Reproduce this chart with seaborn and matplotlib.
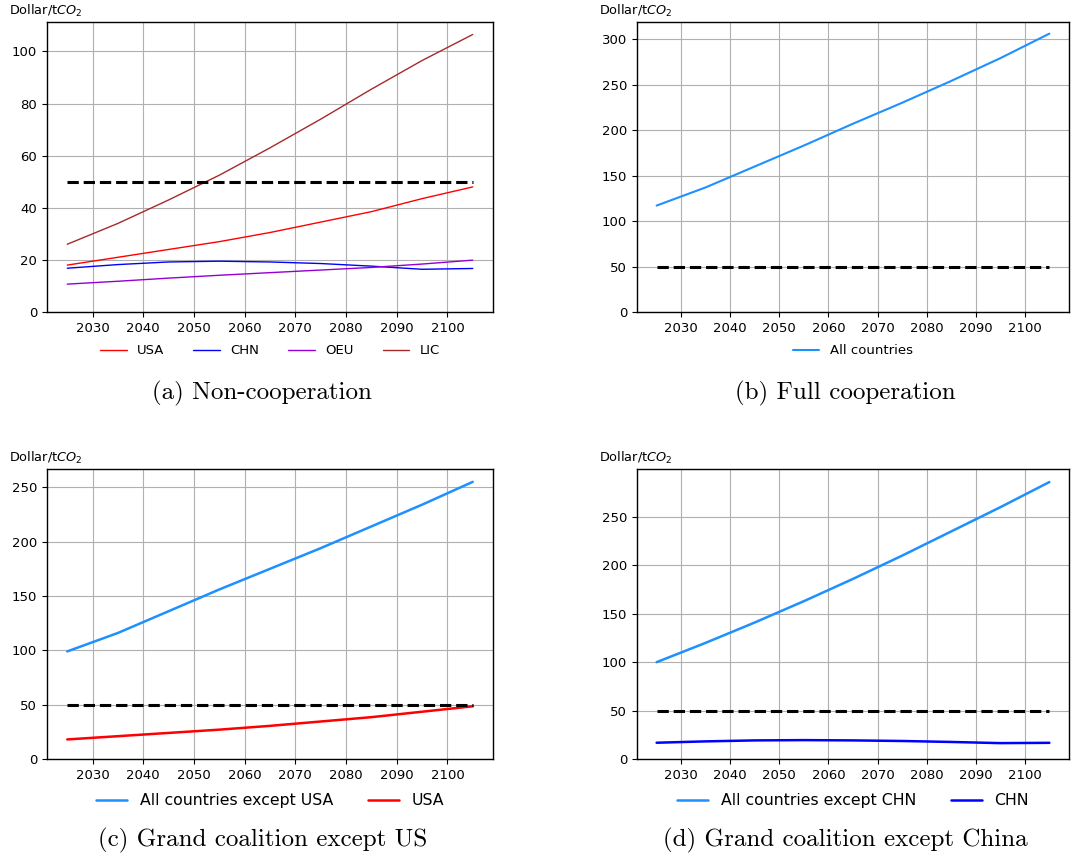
import pandas as pd
import matplotlib.pyplot as plt
import seaborn as sns

sns.set_style('ticks', {'axes.grid': True, 'grid.color': '#b0b0b0',
                        'axes.edgecolor': 'black', 'xtick.color': 'black',
                        'ytick.color': 'black', 'text.color': 'black'})
plt.rcParams['font.family'] = ['DejaVu Sans']

# carbon price paths, Dollar/tCO2, every 10 years
years = [2025, 2035, 2045, 2055, 2065, 2075, 2085, 2095, 2105]
ref_price = 50

usa_noncoop = [18, 21, 24, 27, 30.5, 34.5, 38.5, 43.5, 48]
chn_noncoop = [16.8, 18.2, 19.2, 19.5, 19.2, 18.6, 17.6, 16.4, 16.7]
oeu_noncoop = [10.7, 11.8, 13, 14.1, 15.1, 16.1, 17.1, 18.4, 19.9]
lic_noncoop = [26, 34, 43, 52.5, 63, 74, 85.5, 96.5, 106.5]

all_full = [117, 137, 160, 183, 207, 230, 254, 279, 306]

all_ex_usa = [99, 116, 136, 156, 175, 194, 214, 234, 255]
usa_out = [18, 21, 24, 27, 30.5, 34.5, 38.5, 43.5, 48.5]

all_ex_chn = [100, 120, 141, 163, 186, 210, 235, 260, 286]
chn_out = [16.8, 18.2, 19.2, 19.5, 19.2, 18.6, 17.6, 16.4, 16.7]

captions = ['(a) Non-cooperation', '(b) Full cooperation',
            '(c) Grand coalition except US', '(d) Grand coalition except China']


def long_df(series):
    rows = []
    for name, vals in series.items():
        for y, v in zip(years, vals):
            rows.append({'year': y, 'price': v, 'region': name})
    return pd.DataFrame(rows)


W, H = 1081, 858
fig = plt.figure(figsize=(W / 100, H / 100), dpi=100)

boxes = [(47, 312, 446), (637, 312, 432), (47, 759, 446), (637, 759, 432)]
axes = [fig.add_axes([x / W, (H - b) / H, w / W, 290 / H]) for x, b, w in boxes]

# series, colours, line width, legend columns, legend font size
panels = [
    ({'USA': usa_noncoop, 'CHN': chn_noncoop, 'OEU': oeu_noncoop, 'LIC': lic_noncoop},
     {'USA': 'red', 'CHN': 'blue', 'OEU': 'darkviolet', 'LIC': 'brown'}, 1.0, 4, 9.5),
    ({'All countries': all_full}, {'All countries': 'dodgerblue'}, 1.5, 1, 9.5),
    ({'All countries except USA': all_ex_usa, 'USA': usa_out},
     {'All countries except USA': 'dodgerblue', 'USA': 'red'}, 1.8, 2, 11.3),
    ({'All countries except CHN': all_ex_chn, 'CHN': chn_out},
     {'All countries except CHN': 'dodgerblue', 'CHN': 'blue'}, 1.8, 2, 11.3),
]

for ax, (series, pal, lw, ncol, lfs), cap in zip(axes, panels, captions):
    df = long_df(series)
    sns.lineplot(data=df, x='year', y='price', hue='region', palette=pal,
                 linewidth=lw, ax=ax)
    sns.lineplot(x=years, y=[ref_price] * len(years), color='black',
                 linestyle='--', linewidth=2.2, ax=ax, legend=False)
    ax.set_ylim(bottom=0)
    ax.set_xticks([2030, 2040, 2050, 2060, 2070, 2080, 2090, 2100])
    ax.tick_params(labelsize=9.5, length=3.5, width=0.8)
    ax.set_xlabel('')
    ax.set_ylabel('')
    for s in ax.spines.values():
        s.set_linewidth(1.0)
    ax.annotate('Dollar/t$CO_2$', xy=(0, 1), xycoords='axes fraction',
                xytext=(-38, 3), textcoords='offset pixels',
                ha='left', va='bottom', fontsize=9.3)
    h, l = ax.get_legend_handles_labels()
    ax.legend(h, l, loc='upper center', bbox_to_anchor=(0.5, -0.07),
              ncol=ncol, frameon=False, fontsize=lfs, columnspacing=2.2,
              handlelength=2.0)
    pos = ax.get_position()
    fig.text(pos.x0 + pos.width / 2 - 0.007, pos.y0 - 81 / H, cap,
             ha='center', va='center', fontsize=18, family='cmr10')

fig.savefig('out.png', dpi=100)
